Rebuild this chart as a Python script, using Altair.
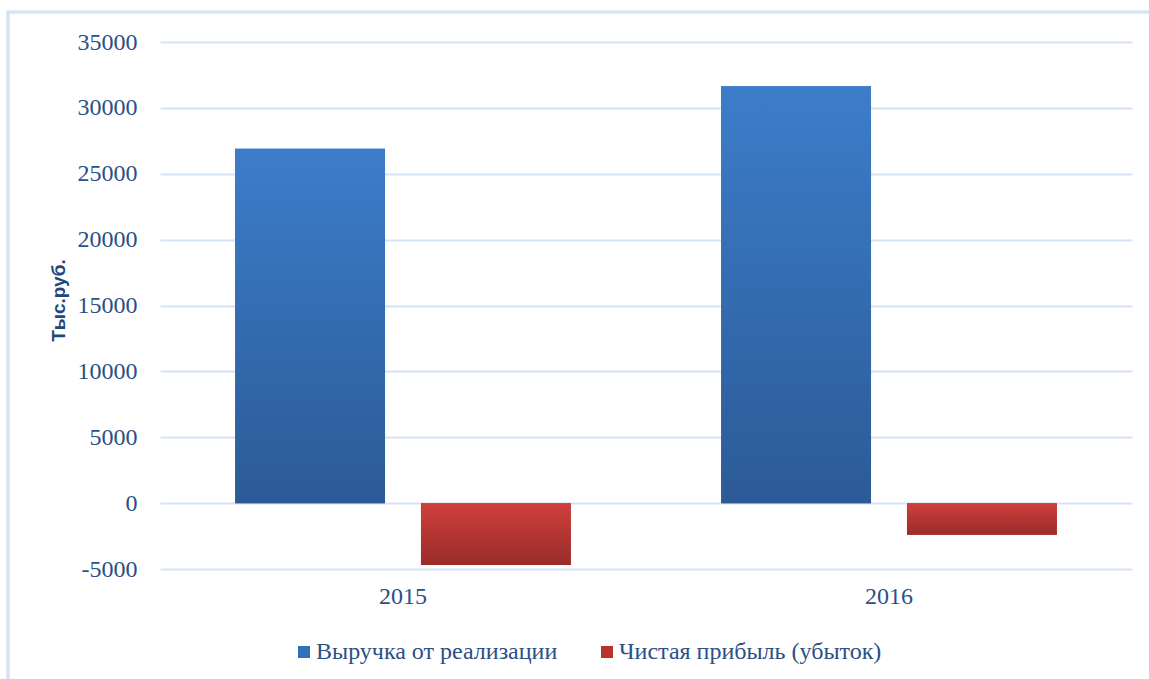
import altair as alt
import pandas as pd

# Revenue and net profit (loss), thousand roubles
years = ["2015", "2016"]
series = ["Выручка от реализации", "Чистая прибыль (убыток)"]
revenue = [26900, 31650]
net_profit = [-4700, -2400]

rows = []
for i, y in enumerate(years):
    rows.append({"year": y, "series": series[0], "value": revenue[i]})
    rows.append({"year": y, "series": series[1], "value": net_profit[i]})
df = pd.DataFrame(rows)

TEXT = "#2B4F86"
GRID = "#D6E3F5"
SERIF = "Liberation Serif"
FS = 24

blue_grad = alt.LinearGradient(
    gradient="linear", x1=0, y1=0, x2=0, y2=1,
    stops=[alt.GradientStop(color="#3C7DCA", offset=0),
           alt.GradientStop(color="#2C5A97", offset=1)],
)
red_grad = alt.LinearGradient(
    gradient="linear", x1=0, y1=0, x2=0, y2=1,
    stops=[alt.GradientStop(color="#CE3F3C", offset=0),
           alt.GradientStop(color="#9A2C2A", offset=1)],
)

W, H = 972, 527

base = alt.Chart(df).encode(
    x=alt.X(
        "year:N",
        sort=years,
        scale=alt.Scale(paddingInner=0, paddingOuter=0),
        axis=alt.Axis(
            title=None, labelAngle=0, ticks=False, domain=False,
            labelFont=SERIF, labelFontSize=FS, labelColor=TEXT, labelPadding=15,
            grid=False,
        ),
    ),
    xOffset=alt.XOffset(
        "series:N", sort=series,
        scale=alt.Scale(paddingInner=0.1935, paddingOuter=0.4046),
    ),
    y=alt.Y(
        "value:Q",
        scale=alt.Scale(domain=[-5000, 35000], nice=False, zero=False),
        axis=alt.Axis(
            title="Тыс.руб.", values=list(range(-5000, 35001, 5000)),
            labelExpr="'' + datum.value",
            ticks=False, domain=False, grid=True, gridColor=GRID, gridWidth=2,
            labelFont=SERIF, labelFontSize=FS, labelColor=TEXT, labelPadding=23,
            titleFont="Liberation Sans", titleFontSize=19, titleFontWeight="bold",
            titleColor="#23477D", titlePadding=9, titleY=258,
        ),
    ),
)

# solid bars carry the legend; gradient bars are painted over them
legend_bars = base.mark_bar().encode(
    color=alt.Color(
        "series:N",
        sort=series,
        scale=alt.Scale(domain=series, range=["#3570BA", "#B8332F"]),
        legend=alt.Legend(
            title=None, orient="none", direction="horizontal",
            legendX=132, legendY=598, padding=0,
            symbolType="square", symbolSize=144, symbolStrokeWidth=0,
            labelFont=SERIF, labelFontSize=FS, labelColor=TEXT, labelLimit=0,
            labelOffset=0, columnPadding=37,
        ),
    )
)

rev_bars = base.mark_bar(color=blue_grad).transform_filter(
    alt.datum.series == series[0]
)
profit_bars = base.mark_bar(color=red_grad).transform_filter(
    alt.datum.series == series[1]
)

frame = alt.Chart(df).mark_rect(
    fill="transparent", stroke=GRID, strokeWidth=2.5
).encode(
    x=alt.value(-152), x2=alt.value(W + 60),
    y=alt.value(-30), y2=alt.value(H + 160),
)

chart = (
    alt.layer(frame, legend_bars, rev_bars, profit_bars)
    .properties(
        width=W, height=H,
        autosize=alt.AutoSizeParams(type="none"),
        padding={"left": 160, "top": 42, "right": 17, "bottom": 110},
        view=alt.ViewBackground(stroke=None, strokeWidth=0),
    )
    .configure_view(stroke=None, strokeWidth=0)
    .configure_axisX(grid=False, domain=False)
    .configure(background="white")
)

chart.save("out.html", embed_options={"renderer": "svg", "actions": False})
